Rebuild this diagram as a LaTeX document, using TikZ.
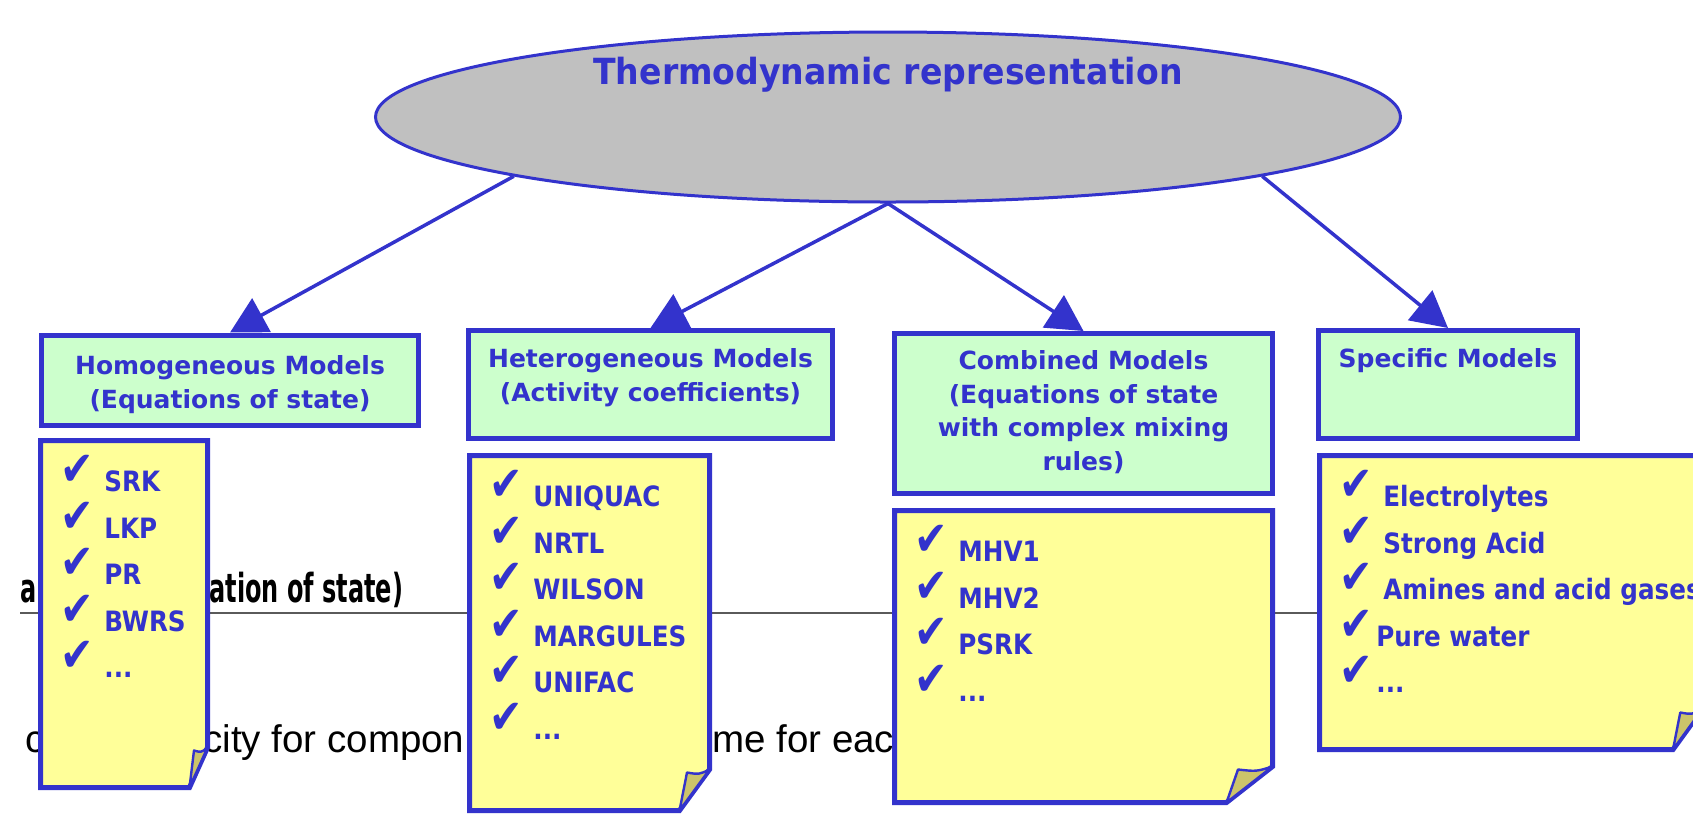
\documentclass[tikz,border=0pt]{standalone}
\usepackage{fontspec}
\usetikzlibrary{shapes.geometric,arrows.meta,fit,backgrounds}

% Fonts
\newfontfamily\hdfont{DejaVu Sans}
\newfontfamily\itemfont{DejaVu Sans}[FakeStretch=0.88]
\newfontfamily\titlefont{DejaVu Sans}[FakeStretch=0.92]
\newfontfamily\tickfont{DejaVu Sans}
\newfontfamily\slidebold{DejaVu Sans}[FakeStretch=0.6]
\newfontfamily\slidefont{Liberation Sans}

% Colours
\definecolor{ink}{RGB}{51,51,204}
\definecolor{mint}{RGB}{204,255,204}
\definecolor{pad}{RGB}{255,255,153}
\definecolor{curl}{RGB}{204,196,106}
\definecolor{oval}{RGB}{192,192,192}
\definecolor{rulegray}{RGB}{90,90,90}

% check mark set in a box of given width, raised above the baseline
\newcommand\tickmk[1]{\makebox[#1][l]{\raisebox{3pt}{\scalebox{1}[1.2]{\tickfont\fontsize{20pt}{20pt}\selectfont ✔}}}}

% sticky note with a curled lower right corner:
% #1 name, (#2,#3) top left, (#4,#5) bottom right, #6 fold width, #7 fold height
\newcommand\stickynote[7]{%
  \coordinate (#1) at (#2,#3);
  \draw[padbox] (#2,#3) -- (#4,#3) -- (#4,#5-#7) -- (#4-#6,#5) -- (#2,#5) -- cycle;
  \filldraw[curlbox] (#4,#5-#7) .. controls (#4-0.35*#6,#5-#7+5) .. (#4-0.75*#6,#5-#7+3) -- (#4-#6,#5) -- cycle;
}

\begin{document}
\begin{tikzpicture}[x=0.5pt,y=-0.5pt,
  greenbox/.style={draw=ink,fill=mint,line width=2.5pt,inner sep=0pt},
  padbox/.style={draw=ink,fill=pad,line width=2.5pt,line join=miter},
  curlbox/.style={draw=ink,fill=curl,line width=1.2pt,line join=round},
  heading/.style={font=\hdfont\bfseries\fontsize{12.5pt}{16.8pt}\selectfont,text=ink,align=center,inner sep=0pt,anchor=north},
  entry/.style={font=\itemfont\bfseries\fontsize{14pt}{14pt}\selectfont,text=ink,inner sep=0pt,anchor=base west},
  link/.style={draw=ink,line width=1.75pt,-{Triangle[length=18pt,width=19pt]}},
  slideb/.style={font=\slidebold\bfseries\fontsize{20pt}{20pt}\selectfont,text=black,inner sep=0pt,anchor=base west},
  slider/.style={font=\slidefont\fontsize{19.25pt}{19.25pt}\selectfont,text=black,inner sep=0pt,anchor=base west},
  ]
\useasboundingbox (0,0) rectangle (1693,816);
\clip (0,0) rectangle (1693,816);

% root ellipse
\node[ellipse,draw=ink,fill=oval,line width=1.5pt,minimum width=512.5pt,minimum height=85pt,inner sep=0pt] (root) at (888,117) {};
\node[font=\titlefont\bfseries\fontsize{18pt}{18pt}\selectfont,text=ink,anchor=base,inner sep=0pt] (title) at (888,84) {Thermodynamic representation};

% model families
\node[greenbox,fit={(41.5,335) (418.5,425)}] (h1) {};
\node[greenbox,fit={(468.5,330.5) (832.5,438.5)}] (h2) {};
\node[greenbox,fit={(894.5,333.5) (1272.5,493.5)}] (h3) {};
\node[greenbox,fit={(1318.5,330.5) (1577.5,438.5)}] (h4) {};

\node[heading] (t1) at (230,355) {Homogeneous Models\\(Equations of state)};
\node[heading] (t2) at (650.5,348) {Heterogeneous Models\\(Activity coefficients)};
\node[heading] (t3) at (1083.5,350) {Combined Models\\(Equations of state\\with complex mixing\\rules)};
\node[heading] (t4) at (1448,348) {Specific Models};

% notes with the individual models
\stickynote{n1}{40.5}{440.5}{207.5}{787.5}{18}{40}
\stickynote{n2}{469.5}{455.5}{709.5}{810.5}{30}{41}
\stickynote{n3}{894.5}{510.5}{1272.5}{802.5}{46}{36}
\stickynote{n4}{1319.5}{455.5}{1702}{749.5}{29}{40}

\node[entry] (a1) at (60.5,491.5) {\tickmk{21.75pt}SRK};
\node[entry] (a2) at (60.5,538.1) {\tickmk{21.75pt}LKP};
\node[entry] (a3) at (60.5,584.7) {\tickmk{21.75pt}PR};
\node[entry] (a4) at (60.5,631.3) {\tickmk{21.75pt}BWRS};
\node[entry] (a5) at (60.5,677.9) {\tickmk{21.75pt}...};

\node[entry] (b1) at (489.5,506.5) {\tickmk{21.75pt}UNIQUAC};
\node[entry] (b2) at (489.5,553.1) {\tickmk{21.75pt}NRTL};
\node[entry] (b3) at (489.5,599.7) {\tickmk{21.75pt}WILSON};
\node[entry] (b4) at (489.5,646.3) {\tickmk{21.75pt}MARGULES};
\node[entry] (b5) at (489.5,692.9) {\tickmk{21.75pt}UNIFAC};
\node[entry] (b6) at (489.5,739.5) {\tickmk{21.75pt}...};

\node[entry] (c1) at (914.5,561.5) {\tickmk{21.75pt}MHV1};
\node[entry] (c2) at (914.5,608.1) {\tickmk{21.75pt}MHV2};
\node[entry] (c3) at (914.5,654.7) {\tickmk{21.75pt}PSRK};
\node[entry] (c4) at (914.5,701.3) {\tickmk{21.75pt}...};

\node[entry] (d1) at (1339.5,506.5) {\tickmk{21.75pt}Electrolytes};
\node[entry] (d2) at (1339.5,553.1) {\tickmk{21.75pt}Strong Acid};
\node[entry] (d3) at (1339.5,599.7) {\tickmk{21.75pt}Amines and acid gases};
\node[entry] (d4) at (1339.5,646.3) {\tickmk{18.25pt}Pure water};
\node[entry] (d5) at (1339.5,692.9) {\tickmk{18.25pt}...};

\begin{scope}[on background layer]
  \fill[white] (0,0) rectangle (1693,816);
  % slide text lying behind the diagram
  \node[slideb] (s1) at (20,602) {ap};
  \node[slideb] (s2) at (209,602) {ation of state)};
  \draw[rulegray,line width=0.8pt] (20,613) -- (1317,613);
  \node[slider] (s3) at (25,752) {c};
  \node[slider] (s4) at (203,752) {city for compon};
  \node[slider] (s5) at (712,752) {me for eac};
  % connectors
  \draw[link] (root.189) -- (h1.north);
  \draw[link] (root.south) -- (h2.north);
  \draw[link] (root.south) -- (h3.north);
  \draw[link] (root.-9) -- (h4.north);
\end{scope}
\end{tikzpicture}
\end{document}
